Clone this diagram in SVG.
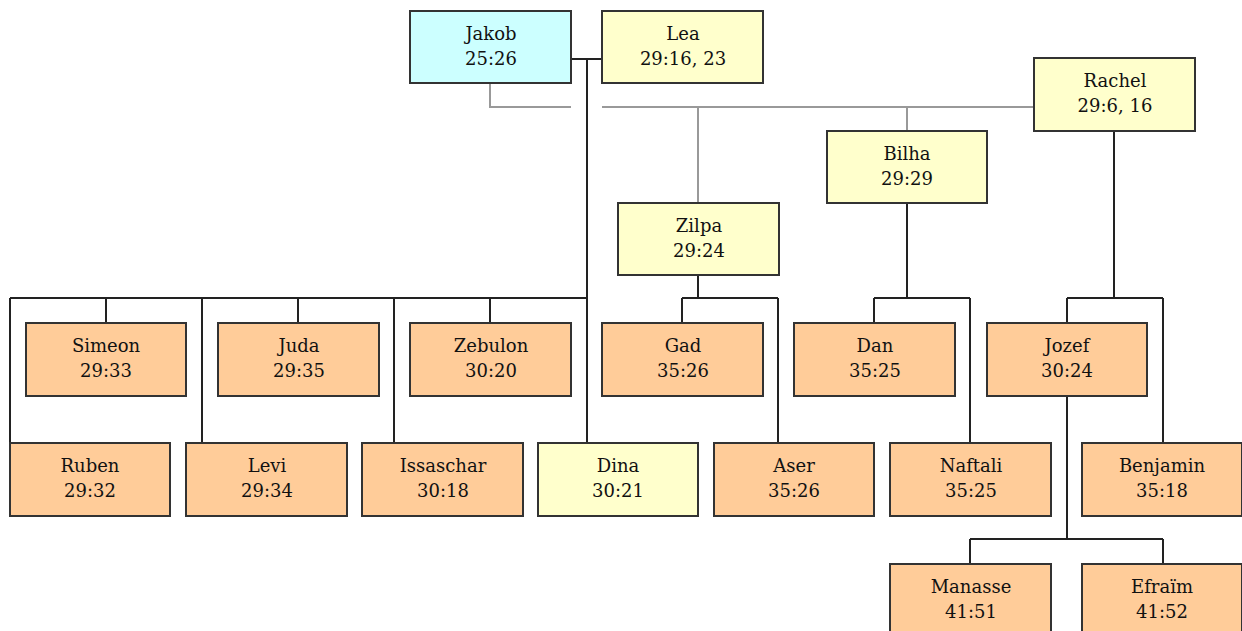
<svg xmlns="http://www.w3.org/2000/svg" width="1242" height="631" viewBox="0 0 1242 631">
<style>
.b{stroke:#333;stroke-width:2}
.c{fill:#ccffff}.y{fill:#ffffcc}.o{fill:#ffcc99}
text{font-family:"DejaVu Serif","Liberation Serif",serif;font-size:18px;fill:#111;text-anchor:middle}
.k{fill:none;stroke:#222;stroke-width:2}
.g{fill:none;stroke:#999;stroke-width:2}
</style>
<rect width="1242" height="631" fill="#fff"/>
<g id="connectors">
<path class="g" d="M490,83V107H571M602,107H1034M698,107V203M907,107V131"/>
<path class="k" d="M571,59H602M587,59V443M10,298H587M10,298V443M106,298V323M202,298V443M298,298V323M394,298V443M490,298V323"/>
<path class="k" d="M698,275V298M682,298H778M682,298V323M778,298V443"/>
<path class="k" d="M907,203V298M874,298H970M874,298V323M970,298V443"/>
<path class="k" d="M1114,131V298M1067,298H1163M1067,298V323M1163,298V443"/>
<path class="k" d="M1067,396V539M970,539H1163M970,539V564M1163,539V564"/>
</g>
<g id="jakob"><rect class="b c" x="410" y="11" width="161" height="72"/><text x="491" y="40">Jakob</text><text x="491" y="65">25:26</text></g>
<g id="lea"><rect class="b y" x="602" y="11" width="161" height="72"/><text x="683" y="40">Lea</text><text x="683" y="65">29:16, 23</text></g>
<g id="rachel"><rect class="b y" x="1034" y="58" width="161" height="73"/><text x="1115" y="87">Rachel</text><text x="1115" y="112">29:6, 16</text></g>
<g id="bilha"><rect class="b y" x="827" y="131" width="160" height="72"/><text x="907" y="160">Bilha</text><text x="907" y="185">29:29</text></g>
<g id="zilpa"><rect class="b y" x="618" y="203" width="161" height="72"/><text x="699" y="232">Zilpa</text><text x="699" y="257">29:24</text></g>
<g id="simeon"><rect class="b o" x="26" y="323" width="160" height="73"/><text x="106" y="352">Simeon</text><text x="106" y="377">29:33</text></g>
<g id="juda"><rect class="b o" x="218" y="323" width="161" height="73"/><text x="299" y="352">Juda</text><text x="299" y="377">29:35</text></g>
<g id="zebulon"><rect class="b o" x="410" y="323" width="161" height="73"/><text x="491" y="352">Zebulon</text><text x="491" y="377">30:20</text></g>
<g id="gad"><rect class="b o" x="602" y="323" width="161" height="73"/><text x="683" y="352">Gad</text><text x="683" y="377">35:26</text></g>
<g id="dan"><rect class="b o" x="794" y="323" width="161" height="73"/><text x="875" y="352">Dan</text><text x="875" y="377">35:25</text></g>
<g id="jozef"><rect class="b o" x="987" y="323" width="160" height="73"/><text x="1067" y="352">Jozef</text><text x="1067" y="377">30:24</text></g>
<g id="ruben"><rect class="b o" x="10" y="443" width="160" height="73"/><text x="90" y="472">Ruben</text><text x="90" y="497">29:32</text></g>
<g id="levi"><rect class="b o" x="186" y="443" width="161" height="73"/><text x="267" y="472">Levi</text><text x="267" y="497">29:34</text></g>
<g id="issaschar"><rect class="b o" x="362" y="443" width="161" height="73"/><text x="443" y="472">Issaschar</text><text x="443" y="497">30:18</text></g>
<g id="dina"><rect class="b y" x="538" y="443" width="160" height="73"/><text x="618" y="472">Dina</text><text x="618" y="497">30:21</text></g>
<g id="aser"><rect class="b o" x="714" y="443" width="160" height="73"/><text x="794" y="472">Aser</text><text x="794" y="497">35:26</text></g>
<g id="naftali"><rect class="b o" x="890" y="443" width="161" height="73"/><text x="971" y="472">Naftali</text><text x="971" y="497">35:25</text></g>
<g id="benjamin"><rect class="b o" x="1082" y="443" width="160" height="73"/><text x="1162" y="472">Benjamin</text><text x="1162" y="497">35:18</text></g>
<g id="manasse"><rect class="b o" x="890" y="564" width="161" height="73"/><text x="971" y="593">Manasse</text><text x="971" y="618">41:51</text></g>
<g id="efraim"><rect class="b o" x="1082" y="564" width="160" height="73"/><text x="1162" y="593">Efraïm</text><text x="1162" y="618">41:52</text></g>
</svg>
